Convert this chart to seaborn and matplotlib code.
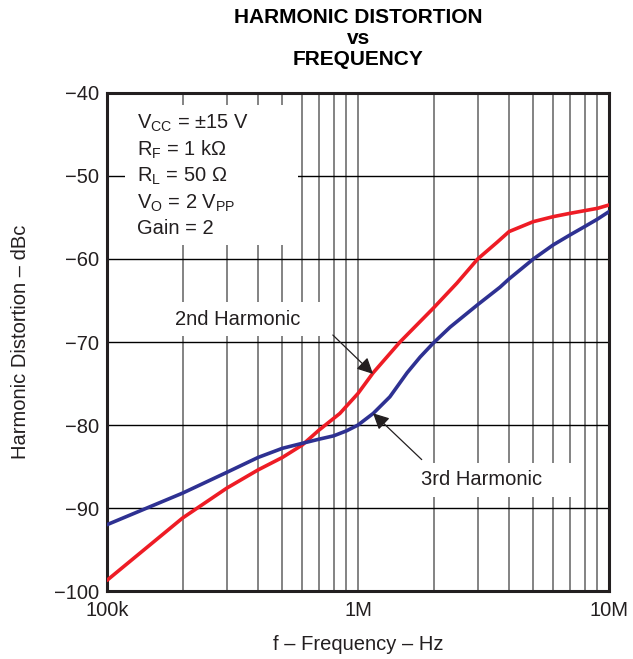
import matplotlib
matplotlib.use("Agg")
import matplotlib.pyplot as plt
import matplotlib.ticker as mticker
from matplotlib.patches import Rectangle
import pandas as pd
import seaborn as sns

# Frequency (Hz) and harmonic distortion (dBc) for each harmonic
freq_2nd = [100e3, 200e3, 300e3, 400e3, 500e3, 600e3, 700e3, 800e3, 847e3, 1e6,
            1.15e6, 1.47e6, 2e6, 2.48e6, 3e6, 3.58e6, 4e6, 5e6, 6e6, 7e6, 9e6, 10e6]
hd_2nd = [-98.7, -91.2, -87.6, -85.4, -83.9, -82.4, -80.6, -79.2, -78.6, -76.2,
          -73.7, -70.0, -65.9, -62.9, -60.0, -58.0, -56.7, -55.5, -54.9, -54.5, -53.9, -53.5]

freq_3rd = [100e3, 200e3, 300e3, 400e3, 500e3, 600e3, 700e3, 800e3, 900e3, 1e6,
            1.15e6, 1.34e6, 1.57e6, 1.77e6, 2e6, 2.33e6, 3e6, 3.68e6, 4e6, 5e6,
            6e6, 7e6, 8e6, 9e6, 10e6]
hd_3rd = [-92.0, -88.2, -85.7, -83.9, -82.8, -82.2, -81.7, -81.3, -80.7, -80.0,
          -78.6, -76.6, -73.7, -71.8, -70.1, -68.2, -65.5, -63.4, -62.4, -60.0,
          -58.3, -57.1, -56.1, -55.2, -54.3]

y_ticks = [-40, -50, -60, -70, -80, -90, -100]
x_ticks = [100e3, 1e6, 10e6]
x_tick_labels = ["100k", "1M", "10M"]

conditions = [r"V$_{\mathrm{CC}}$ = ±15 V",
              r"R$_{\mathrm{F}}$ = 1 kΩ",
              r"R$_{\mathrm{L}}$ = 50 Ω",
              r"V$_{\mathrm{O}}$ = 2 V$_{\mathrm{PP}}$",
              "Gain = 2"]

sns.set_theme(style="white")
plt.rcParams["font.family"] = ["Liberation Sans", "DejaVu Sans"]
plt.rcParams["mathtext.fontset"] = "custom"
plt.rcParams["mathtext.rm"] = "Liberation Sans"
plt.rcParams["mathtext.it"] = "Liberation Sans"
plt.rcParams["axes.unicode_minus"] = True

FS = 14.5
INK = "#231f20"

df2 = pd.DataFrame({"f": freq_2nd, "hd": hd_2nd})
df3 = pd.DataFrame({"f": freq_3rd, "hd": hd_3rd})

fig = plt.figure(figsize=(6.33, 6.59), dpi=100)
ax = fig.add_axes([0.169, 0.103, 0.793, 0.756])
ax.set_xscale("log")
ax.set_xlim(100e3, 10e6)
ax.set_ylim(-100, -40)

# grid: grey verticals on every 1-2-...-9 step, black horizontals every 10 dB
ax.xaxis.set_major_locator(mticker.FixedLocator(x_ticks))
ax.xaxis.set_minor_locator(mticker.LogLocator(base=10, subs=range(2, 10)))
ax.xaxis.set_minor_formatter(mticker.NullFormatter())
ax.set_xticklabels(x_tick_labels)
ax.set_yticks(y_ticks)
ax.set_yticklabels([f"\u2212{abs(v)}" for v in y_ticks])
ax.grid(True, which="both", axis="x", color="#7a7a7a", lw=1.3, zorder=0)
ax.grid(True, which="major", axis="y", color="black", lw=1.0, zorder=0)
ax.tick_params(axis="both", which="both", length=0, labelsize=FS, colors=INK)
ax.tick_params(axis="x", pad=7)
ax.tick_params(axis="y", pad=6)

for s in ax.spines.values():
    s.set_color(INK)
    s.set_linewidth(2.2)

# condition box
ax.add_patch(Rectangle((0.036, 0.695), 0.344, 0.281, transform=ax.transAxes,
                       facecolor="white", edgecolor="none", zorder=2))
ys = [0.938, 0.886, 0.833, 0.779, 0.727]
for t, yy in zip(conditions, ys):
    ax.text(0.060, yy, t, transform=ax.transAxes, fontsize=FS, va="center",
            ha="left", color=INK, zorder=3)

# label boxes
ax.add_patch(Rectangle((0.116, 0.512), 0.328, 0.068, transform=ax.transAxes,
                       facecolor="white", edgecolor="none", zorder=2))
ax.add_patch(Rectangle((0.604, 0.189), 0.328, 0.068, transform=ax.transAxes,
                       facecolor="white", edgecolor="none", zorder=2))

sns.lineplot(data=df2, x="f", y="hd", ax=ax, color="#ee1c25", lw=2.6,
             zorder=4, estimator=None, sort=False)
sns.lineplot(data=df3, x="f", y="hd", ax=ax, color="#2e3192", lw=2.6,
             zorder=4, estimator=None, sort=False)

arrow = dict(arrowstyle="-|>", color=INK, lw=0.9, mutation_scale=24,
             shrinkA=0, shrinkB=0)
ax.annotate("", xy=(0.530, 0.436), xytext=(0.450, 0.514),
            xycoords="axes fraction", textcoords="axes fraction",
            arrowprops=arrow, zorder=5)
ax.annotate("", xy=(0.530, 0.357), xytext=(0.627, 0.264),
            xycoords="axes fraction", textcoords="axes fraction",
            arrowprops=arrow, zorder=5)
ax.text(0.261, 0.546, "2nd Harmonic", transform=ax.transAxes, fontsize=FS,
        ha="center", va="center", color=INK, zorder=5)
ax.text(0.747, 0.225, "3rd Harmonic", transform=ax.transAxes, fontsize=FS,
        ha="center", va="center", color=INK, zorder=5)

ax.set_xlabel("f \u2013 Frequency \u2013 Hz", fontsize=FS, color=INK, labelpad=11)
ax.set_ylabel("Harmonic Distortion \u2013 dBc", fontsize=FS, color=INK, labelpad=17)

for txt, yy in [("HARMONIC DISTORTION", 0.974), ("vs", 0.942), ("FREQUENCY", 0.909)]:
    fig.text(0.566, yy, txt, ha="center", va="center", fontsize=15,
             fontweight="bold", color="black",
             family=["Liberation Sans Narrow", "Liberation Sans"])

fig.savefig("out.png", dpi=100, facecolor="white")
